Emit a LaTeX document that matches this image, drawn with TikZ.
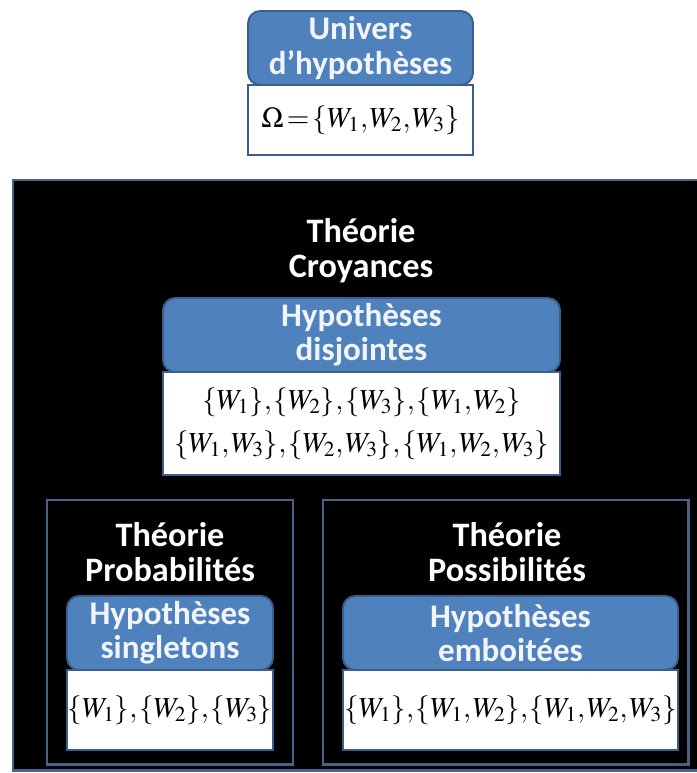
\documentclass[tikz,border=0pt]{standalone}
\usepackage{mathptmx}
\usepackage{fontspec}
\setmainfont{Carlito}
\usetikzlibrary{positioning}

\definecolor{hypblue}{HTML}{4F81BD}
\definecolor{hypedge}{HTML}{3A5F8F}
\definecolor{frameedge}{HTML}{4A6188}

\newcommand{\tightmath}{\thinmuskip 1mu\relax\thickmuskip 2mu\relax}

\tikzset{
  hyp/.style={draw=hypedge, fill=hypblue, rounded corners=7pt, line width=1.1pt,
    text=white!92!hypblue, font=\bfseries\fontsize{18.8}{19.5}\selectfont,
    align=center, inner sep=0pt, minimum height=1.48cm},
  sets/.style={draw=hypedge, fill=white, line width=1.1pt,
    font=\fontsize{16.5}{24.5}\selectfont\tightmath,
    align=center, inner sep=0pt},
  theory/.style={text=white, font=\bfseries\fontsize{19.5}{20}\selectfont, align=center},
  frame/.style={draw=frameedge, fill=black, line width=1.7pt}
}

\begin{document}
\begin{tikzpicture}[x=0.02cm, y=-0.02cm]
  \useasboundingbox (0,0) rectangle (696,773);

  % universe of hypotheses
  \node[hyp, minimum width=4.5cm] (univ) at (360.5,48) {Univers\\d’hypothèses};
  \node[sets, minimum width=4.5cm, minimum height=1.4cm, below=-1pt of univ] (omega)
    {$\Omega=\{W_1,W_2,W_3\}$};

  % belief theory
  \draw[frame] (13,180) rectangle (700,770);
  \node[theory] (tcroy) at (361,251) {Théorie\\Croyances};
  \node[hyp, minimum width=7.94cm] (hdisj) at (361.5,335) {Hypothèses\\disjointes};
  \node[sets, minimum width=7.94cm, minimum height=2.06cm, below=-1pt of hdisj] (sdisj)
    {$\{W_1\},\{W_2\},\{W_3\},\{W_1,W_2\}$\\
     $\{W_1,W_3\},\{W_2,W_3\},\{W_1,W_2,W_3\}$};

  % probability theory
  \draw[frame] (47,500) rectangle (293,764);
  \node[theory] (tprob) at (170,552) {Théorie\\Probabilités};
  \node[hyp, minimum width=4.12cm] (hsing) at (170,633) {Hypothèses\\singletons};
  \node[sets, minimum width=4.12cm, minimum height=1.6cm, below=-1pt of hsing] (ssing)
    {$\{W_1\},\{W_2\},\{W_3\}$};

  % possibility theory
  \draw[frame] (323,500) rectangle (688,764);
  \node[theory] (tposs) at (507,552) {Théorie\\Possibilités};
  \node[hyp, minimum width=6.7cm] (hemb) at (510.5,633) {Hypothèses\\emboitées};
  \node[sets, minimum width=6.7cm, minimum height=1.6cm, below=-1pt of hemb] (semb)
    {$\{W_1\},\{W_1,W_2\},\{W_1,W_2,W_3\}$};
\end{tikzpicture}
\end{document}
